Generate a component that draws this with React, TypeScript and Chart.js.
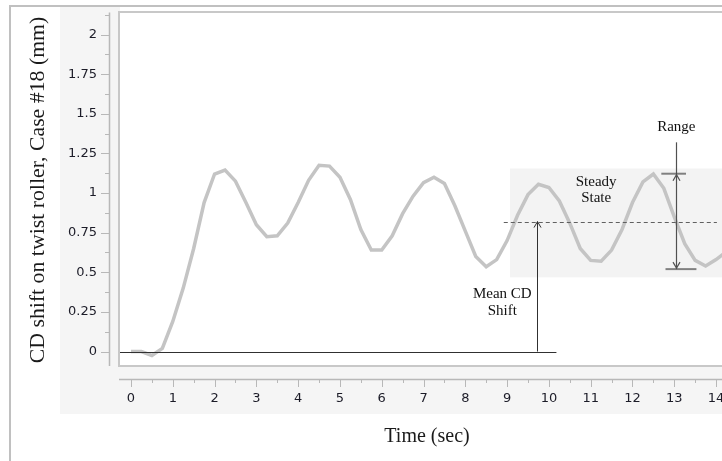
import React, { useEffect, useRef } from "react";
import { Chart, registerables } from "chart.js";

Chart.register(...registerables);

// ---- data ----
const timeSec = [
  0, 0.25, 0.5, 0.75, 1, 1.25, 1.5, 1.75, 2, 2.25, 2.5, 2.75, 3, 3.25, 3.5, 3.75,
  4, 4.25, 4.5, 4.75, 5, 5.25, 5.5, 5.75, 6, 6.25, 6.5, 6.75, 7, 7.25, 7.5, 7.75,
  8, 8.25, 8.5, 8.75, 9, 9.25, 9.5, 9.75, 10, 10.25, 10.5, 10.75, 11, 11.25, 11.5,
  11.75, 12, 12.25, 12.5, 12.75, 13, 13.25, 13.5, 13.75, 14, 14.25,
];
const cdShift = [
  0, 0, -0.025, 0.02, 0.19, 0.4, 0.65, 0.94, 1.12, 1.145, 1.075, 0.94, 0.8, 0.725, 0.73, 0.81,
  0.94, 1.08, 1.175, 1.17, 1.1, 0.96, 0.77, 0.64, 0.64, 0.73, 0.87, 0.98, 1.065, 1.1, 1.06, 0.92,
  0.76, 0.6, 0.535, 0.58, 0.7, 0.86, 0.99, 1.055, 1.035, 0.95, 0.81, 0.65, 0.575, 0.57, 0.64,
  0.77, 0.94, 1.07, 1.12, 1.03, 0.85, 0.68, 0.575, 0.54, 0.58, 0.63,
];

const xTickValues = [0, 1, 2, 3, 4, 5, 6, 7, 8, 9, 10, 11, 12, 13, 14];
const xTickLabels = ["0", "1", "2", "3", "4", "5", "6", "7", "8", "9", "10", "11", "12", "13", "14"];
const xMinorTicks = [0.5, 1.5, 2.5, 3.5, 4.5, 5.5, 6.5, 7.5, 8.5, 9.5, 10.5, 11.5, 12.5, 13.5, 14.5];
const yTickValues = [0, 0.25, 0.5, 0.75, 1, 1.25, 1.5, 1.75, 2];
const yTickLabels = ["0", "0.25", "0.5", "0.75", "1", "1.25", "1.5", "1.75", "2"];
const yMinorTicks = [0.125, 0.375, 0.625, 0.875, 1.125, 1.375, 1.625, 1.875, 2.125];

const xTitle = "Time (sec)";
const yTitle = "CD shift on twist roller, Case #18 (mm)";

// annotation values (data coordinates)
const meanShift = 0.82;
const meanArrowTime = 9.72;
const zeroLineEnd = 10.18;
const meanLineSpan = [8.92, 14.02];
const steadyBox = [9.07, 1.155, 0.468]; // start time, top, bottom
const rangeTime = 13.05;
const rangeLineTop = 1.32;
const rangeValues = [1.122, 0.52]; // top, bottom
const rangeTopCap = [12.69, 13.28];
const rangeBottomCap = [12.79, 13.53];
const rangeLabel = { t: 13.05, v: 1.416, text: "Range" };
const steadyLabel = { t: 11.13, v: [1.071, 0.968], lines: ["Steady", "State"] };
const meanLabel = { t: 8.885, v: [0.363, 0.256], lines: ["Mean CD", "Shift"] };

const W = 760;
const H = 461;

export default function App() {
  const ref = useRef<HTMLCanvasElement | null>(null);

  useEffect(() => {
    const canvas = ref.current;
    if (!canvas) return;

    const decor = {
      id: "decor",
      beforeDraw(chart: any) {
        const ctx = chart.ctx as CanvasRenderingContext2D;
        const { x, y } = chart.scales;
        const a = chart.chartArea;
        ctx.save();
        ctx.fillStyle = "#ffffff";
        ctx.fillRect(0, 0, W, H);
        // grey axis panels
        ctx.fillStyle = "#f5f5f5";
        ctx.fillRect(60, 7, 60, 407);
        ctx.fillRect(60, 366, W - 60, 48);
        // outer frame
        ctx.strokeStyle = "#c0c0c0";
        ctx.lineWidth = 2;
        ctx.beginPath();
        ctx.moveTo(10, H);
        ctx.lineTo(10, 6);
        ctx.lineTo(W, 6);
        ctx.stroke();
        // plot box
        ctx.fillStyle = "#ffffff";
        ctx.fillRect(a.left, a.top, a.right - a.left, a.bottom - a.top);
        ctx.strokeStyle = "#c8c8c8";
        ctx.lineWidth = 2;
        ctx.strokeRect(a.left - 1, a.top - 1, a.right - a.left + 40, a.bottom - a.top + 2);
        // steady state box
        const sx = x.getPixelForValue(steadyBox[0]);
        const sy1 = y.getPixelForValue(steadyBox[1]);
        const sy2 = y.getPixelForValue(steadyBox[2]);
        ctx.fillStyle = "#f3f3f3";
        ctx.fillRect(sx, sy1, a.right - sx, sy2 - sy1);
        ctx.restore();
      },
      afterDatasetsDraw(chart: any) {
        const ctx = chart.ctx as CanvasRenderingContext2D;
        const { x, y } = chart.scales;
        const a = chart.chartArea;
        const px = (t: number) => x.getPixelForValue(t);
        const py = (v: number) => y.getPixelForValue(v);
        const line = (x1: number, y1: number, x2: number, y2: number) => {
          ctx.beginPath();
          ctx.moveTo(x1, y1);
          ctx.lineTo(x2, y2);
          ctx.stroke();
        };
        const chevron = (tx: number, ty: number, dir: number) => {
          ctx.beginPath();
          ctx.moveTo(tx - 3.5, ty + dir * 6);
          ctx.lineTo(tx, ty);
          ctx.lineTo(tx + 3.5, ty + dir * 6);
          ctx.stroke();
        };
        ctx.save();
        // zero line + mean arrow
        ctx.strokeStyle = "#303030";
        ctx.lineWidth = 1;
        line(a.left, Math.round(py(0)) + 0.5, px(zeroLineEnd), Math.round(py(0)) + 0.5);
        const mx = Math.round(px(meanArrowTime)) + 0.5;
        line(mx, py(0), mx, py(meanShift));
        chevron(mx, py(meanShift), 1);
        // dashed mean line
        ctx.strokeStyle = "#606060";
        ctx.setLineDash([4, 3]);
        const my = Math.round(py(meanShift)) + 0.5;
        line(px(meanLineSpan[0]), my, px(meanLineSpan[1]), my);
        ctx.setLineDash([]);
        // range
        const rx = Math.round(px(rangeTime)) + 0.5;
        ctx.strokeStyle = "#808080";
        ctx.lineWidth = 2;
        line(px(rangeTopCap[0]), py(rangeValues[0]), px(rangeTopCap[1]), py(rangeValues[0]));
        line(px(rangeBottomCap[0]), py(rangeValues[1]), px(rangeBottomCap[1]), py(rangeValues[1]));
        ctx.strokeStyle = "#505050";
        ctx.lineWidth = 1.2;
        line(rx, py(rangeLineTop), rx, py(rangeValues[1]));
        chevron(rx, py(rangeValues[0]) + 1, 1);
        chevron(rx, py(rangeValues[1]) - 1, -1);
        // annotation text
        ctx.fillStyle = "#111111";
        ctx.font = "15px 'Liberation Serif'";
        ctx.textAlign = "center";
        ctx.textBaseline = "middle";
        ctx.fillText(rangeLabel.text, px(rangeLabel.t), py(rangeLabel.v));
        steadyLabel.lines.forEach((s, i) => ctx.fillText(s, px(steadyLabel.t), py(steadyLabel.v[i])));
        meanLabel.lines.forEach((s, i) => ctx.fillText(s, px(meanLabel.t), py(meanLabel.v[i])));
        ctx.restore();
      },
      afterDraw(chart: any) {
        const ctx = chart.ctx as CanvasRenderingContext2D;
        const { x, y } = chart.scales;
        const a = chart.chartArea;
        ctx.save();
        // y axis
        const ax = 109.5;
        ctx.strokeStyle = "#b8b8b8";
        ctx.lineWidth = 1.5;
        ctx.beginPath();
        ctx.moveTo(ax, a.top - 0.5);
        ctx.lineTo(ax, a.bottom + 1);
        ctx.stroke();
        ctx.lineWidth = 1;
        yTickValues.forEach((v) => {
          const yy = Math.round(y.getPixelForValue(v)) + 0.5;
          ctx.beginPath();
          ctx.moveTo(101, yy);
          ctx.lineTo(ax, yy);
          ctx.stroke();
        });
        yMinorTicks.forEach((v) => {
          const yy = Math.round(y.getPixelForValue(v)) + 0.5;
          ctx.beginPath();
          ctx.moveTo(105, yy);
          ctx.lineTo(ax, yy);
          ctx.stroke();
        });
        // x axis
        const ay = 379.5;
        ctx.lineWidth = 1.5;
        ctx.beginPath();
        ctx.moveTo(a.left - 1, ay);
        ctx.lineTo(W, ay);
        ctx.stroke();
        ctx.lineWidth = 1;
        xTickValues.forEach((t) => {
          const xx = Math.round(x.getPixelForValue(t)) + 0.5;
          ctx.beginPath();
          ctx.moveTo(xx, ay);
          ctx.lineTo(xx, 387);
          ctx.stroke();
        });
        xMinorTicks.forEach((t) => {
          const xx = Math.round(x.getPixelForValue(t)) + 0.5;
          ctx.beginPath();
          ctx.moveTo(xx, ay);
          ctx.lineTo(xx, 383);
          ctx.stroke();
        });
        // tick labels
        ctx.fillStyle = "#1c1c28";
        ctx.font = "13px 'DejaVu Sans'";
        ctx.textBaseline = "middle";
        ctx.textAlign = "right";
        yTickValues.forEach((v, i) => ctx.fillText(yTickLabels[i], 97, y.getPixelForValue(v)));
        ctx.textAlign = "center";
        xTickValues.forEach((t, i) => ctx.fillText(xTickLabels[i], x.getPixelForValue(t), 399));
        // titles
        ctx.fillStyle = "#1a1a1a";
        ctx.font = "20px 'Liberation Serif'";
        ctx.fillText(xTitle, 427, 437);
        ctx.font = "21.8px 'Liberation Serif'";
        ctx.translate(38, 190);
        ctx.rotate(-Math.PI / 2);
        ctx.fillText(yTitle, 0, 0);
        ctx.restore();
      },
    };

    const chart = new Chart(canvas, {
      type: "line",
      data: {
        datasets: [
          {
            data: timeSec.map((t, i) => ({ x: t, y: cdShift[i] })),
            borderColor: "#c4c4c4",
            borderWidth: 3.5,
            pointRadius: 0,
            tension: 0,
            fill: false,
          },
        ],
      },
      options: {
        responsive: false,
        devicePixelRatio: 1,
        animation: false,
        layout: { padding: { left: 120, top: 13, right: 10, bottom: 96 } },
        plugins: { legend: { display: false }, title: { display: false }, tooltip: { enabled: false } },
        scales: {
          x: { type: "linear", display: false, min: -0.263, max: 14.812 },
          y: { type: "linear", display: false, min: -0.085, max: 2.136 },
        },
      },
      plugins: [decor],
    });
    return () => chart.destroy();
  }, []);

  return (
    <div
      style={{
        position: "absolute",
        left: 0,
        top: 0,
        width: 722,
        height: 461,
        overflow: "hidden",
        background: "#ffffff",
      }}
    >
      <canvas ref={ref} width={W} height={H} style={{ display: "block", width: W, height: H }} />
    </div>
  );
}
